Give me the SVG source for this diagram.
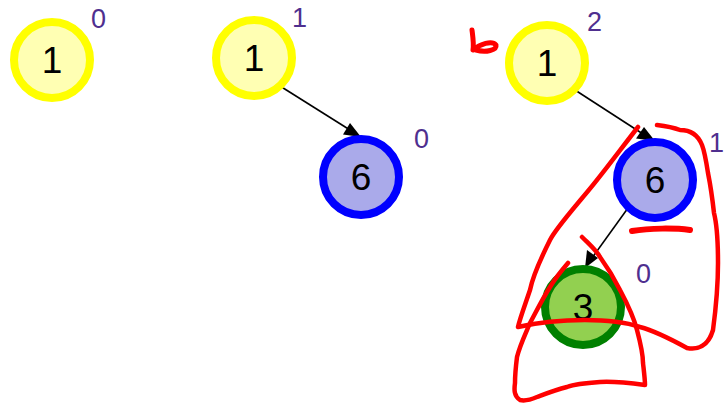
<svg xmlns="http://www.w3.org/2000/svg" width="726" height="405" viewBox="0 0 726 405">
<style>
.yellow{fill:#ffffb3;stroke:#ffff00;stroke-width:8}
.blue{fill:#aaaaea;stroke:#0000ff;stroke-width:8}
.green{fill:#92d050;stroke:#008000;stroke-width:8}
.val{font-family:"Liberation Sans",Arial,sans-serif;font-size:37px;fill:#000;text-anchor:middle}
.h{font-family:"Liberation Sans",Arial,sans-serif;font-size:27px;fill:#4f2f8f}
.edge{stroke:#000;stroke-width:1.6;fill:none}
.head{fill:#000}
.ink{stroke:#ff0000;stroke-width:4.5;fill:none;stroke-linecap:round;stroke-linejoin:round}
</style>
<rect width="726" height="405" fill="#fff"/>
<g id="connectors">
<line class="edge" x1="280" y1="86" x2="350" y2="130"/>
<path class="head" d="M361,137 L343,134.5 L350,123 z"/>
<line class="edge" x1="575" y1="90" x2="643" y2="134"/>
<path class="head" d="M655,141 L636,138.5 L644,127 z"/>
<line class="edge" x1="628" y1="208" x2="592" y2="258"/>
<path class="head" d="M585,268 L587,250 L598,258 z"/>
</g>
<g id="n1">
<circle class="yellow" cx="52" cy="60" r="38"/>
<text class="val" x="52" y="73">1</text>
<text class="h" x="91" y="28">0</text>
</g>
<g id="n2">
<circle class="yellow" cx="254" cy="58" r="38"/>
<text class="val" x="254" y="71">1</text>
<text class="h" x="292" y="27">1</text>
</g>
<g id="n3">
<circle class="blue" cx="361" cy="177" r="38"/>
<text class="val" x="361" y="190">6</text>
<text class="h" x="414" y="148">0</text>
</g>
<g id="n4">
<circle class="yellow" cx="547" cy="63" r="38"/>
<text class="val" x="547" y="76">1</text>
<text class="h" x="587" y="31">2</text>
</g>
<g id="n5">
<circle class="blue" cx="655" cy="180" r="38"/>
<text class="val" x="655" y="193">6</text>
<text class="h" x="709" y="152">1</text>
</g>
<g id="n6">
<circle class="green" cx="583" cy="307" r="38"/>
<text class="val" x="583" y="320">3</text>
<text class="h" x="636" y="283">0</text>
</g>
<g id="annotations">
<path class="ink" d="M472,30 C473,38 474,44 473,50 C480,44 492,40 496,45 C497,50 486,53 476,50" style="stroke-width:5"/>
<path class="ink" d="M638,127 C620,150 598,180 583,197 C568,215 555,230 550,240 C540,260 533,275 530,290 C525,305 520,318 518,327 C540,322 560,320 585,320 C610,320 625,322 640,327 C655,331 667,337 687,348 C697,350 708,347 713,330 C717,300 718,280 718,263 C718,240 717,225 714,213 C712,195 710,183 708,173 C706,160 704,150 702,145 C698,135 690,130 680,130 C672,127 665,126 657,125"/>
<path class="ink" d="M582,237 C590,245 596,250 600,257 C608,268 615,280 620,290 C628,305 634,318 637,330 C641,345 643,355 643,363 C644,372 645,380 645,385 C630,383 615,381 600,382 C585,383 575,384 567,387 C555,390 545,394 537,397 C530,400 524,401 520,400 C514,396 514,390 515,383 C515,375 516,365 517,357 C520,345 525,335 530,323 C537,310 543,298 550,287 C556,277 562,270 568,263"/>
<path class="ink" d="M632,231 C650,228 675,228 690,230" style="stroke-width:6"/>
</g>
</svg>
